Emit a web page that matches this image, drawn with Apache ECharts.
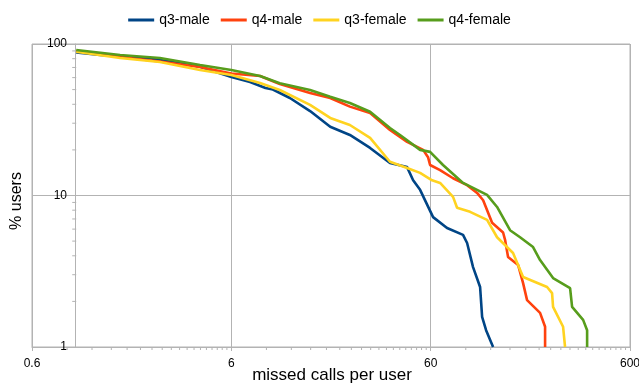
<!DOCTYPE html>
<html>
  <head>
    <title></title>
    <meta charset="UTF-8" />
    <script src="https://cdn.jsdelivr.net/npm/echarts@6/dist/echarts.min.js"></script>
  </head>
  <body style="margin:0">
    <div id="main"></div>
    <script>
      const width = 639;
      const height = 385;
      const main = document.getElementById('main');
      main.style.width = `${width}px`;
      main.style.height = `${height}px`;

      const seriesNames = ['q3-male', 'q4-male', 'q3-female', 'q4-female'];
      const colors = ['#004586', '#ff420e', '#ffd320', '#579d1c'];

      const xTicks = [0.6, 6, 60, 600];
      const yTicks = [1, 10, 100];

      // [missed calls, % users]
      const q3Male = [
        [1, 88], [1.32, 84.6], [2.35, 80.5], [4.18, 70.8], [6, 60.5], [7.45, 56.2],
        [8.9, 51.3], [9.7, 50.1], [11.8, 44.0], [14.9, 36.1], [18.8, 28.4], [23.6, 25.1],
        [29.8, 20.6], [37.5, 16.4], [45.7, 15.4], [49, 12.6], [53.1, 10.9], [61.7, 7.2],
        [72.5, 6.1], [87.2, 5.5], [91.4, 4.86], [97.9, 3.37], [106.2, 2.49], [108.7, 1.58],
        [113.8, 1.29], [123.4, 1.0]
      ];
      const q4Male = [
        [1, 89.9], [1.66, 82.1], [2.63, 76.6], [4.18, 70.5], [6, 63.9], [8.36, 61.5],
        [10.5, 54.4], [14.9, 47.5], [18.8, 44.0], [23.6, 38.6], [29.8, 35.0], [37.5, 27.1],
        [45.7, 22.6], [55, 20.0], [58.2, 17.9], [59.6, 15.9], [66.9, 14.7], [77.7, 13.0],
        [91.4, 11.7], [102.6, 10.4], [110, 9.3], [122, 6.6], [138.5, 5.7], [141.7, 5.1],
        [146.7, 3.93], [164.7, 3.48], [174.5, 2.64], [182.7, 2.04], [212.3, 1.68],
        [225, 1.36], [225, 1.0]
      ];
      const q3Female = [
        [1, 88.9], [1.66, 80.8], [2.63, 76.1], [4.18, 67.3], [6, 62.4], [8.36, 55.3],
        [10.5, 49.7], [14.9, 39.6], [18.8, 32.5], [23.6, 29.2], [29.8, 24.0], [37.5, 16.7],
        [45.7, 15.2], [53.1, 14.1], [61, 12.6], [66.9, 12.1], [77.7, 9.8], [81.4, 8.3],
        [94.6, 7.8], [115.1, 6.9], [129.2, 5.3], [155.4, 4.17], [174.5, 2.9], [230.2, 2.49],
        [243.9, 2.27], [246.7, 1.84], [277, 1.36], [283.4, 1.0]
      ];
      const q4Female = [
        [1, 91.3], [1.66, 84.6], [2.63, 80.8], [4.18, 72.7], [6, 67.3], [8.36, 61.5],
        [10.5, 55.0], [14.9, 49.7], [18.8, 44.9], [23.6, 40.8], [29.8, 35.7], [37.5, 27.9],
        [42.1, 25.1], [53.1, 20.0], [59.6, 19.4], [69.2, 15.9], [87.2, 12.1], [115.1, 10.1],
        [129.2, 8.4], [150.1, 5.9], [168.5, 5.3], [195.8, 4.57], [212.3, 3.75], [246.7, 2.85],
        [300.3, 2.45], [307.4, 1.84], [349.1, 1.51], [365.6, 1.29], [365.6, 1.0]
      ];
      const seriesData = [q3Male, q4Male, q3Female, q4Female];

      // minor ticks: x steps of half the decade start, y steps of the decade
      const xMinor = [];
      [0.6, 6, 60].forEach(d => { for (let k = 3; k < 20; k++) xMinor.push([d * k / 2, 1]); });
      const yMinor = [];
      [1, 10].forEach(d => { for (let k = 2; k < 10; k++) yMinor.push([1, d * k]); });

      const grey = '#b3b3b3';
      const font = 'Liberation Sans';

      const myChart = echarts.init(main, null, { renderer: 'canvas' });
      const option = {
        animation: false,
        textStyle: { fontFamily: font },
        legend: {
          data: seriesNames,
          top: 8,
          left: 'center',
          icon: 'rect',
          itemWidth: 26,
          itemHeight: 3,
          itemGap: 11,
          textStyle: { fontSize: 14, color: '#000', fontFamily: font }
        },
        grid: {
          left: 32,
          right: 9,
          top: 44,
          bottom: 38,
          outerBoundsMode: 'none',
          containLabel: false,
          show: true,
          borderColor: grey,
          borderWidth: 1
        },
        xAxis: {
          type: 'log',
          logBase: 10,
          min: 0.6,
          max: 600,
          axisLine: { lineStyle: { color: grey } },
          axisTick: { customValues: xTicks, length: 4, lineStyle: { color: grey } },
          axisLabel: { customValues: xTicks, fontSize: 12, color: '#000', margin: 11 },
          splitLine: { show: true, lineStyle: { color: grey } }
        },
        yAxis: {
          type: 'log',
          logBase: 10,
          min: 1,
          max: 100,
          offset: -43,
          axisLine: { show: true, lineStyle: { color: grey } },
          axisTick: { show: false },
          axisLabel: { fontSize: 12, color: '#000', margin: 8 },
          splitLine: { show: true, lineStyle: { color: grey } }
        },
        graphic: [{
          type: 'text',
          x: 17,
          y: 201,
          rotation: Math.PI / 2,
          style: {
            text: '% users',
            font: `16px "${font}"`,
            fill: '#000',
            align: 'center',
            verticalAlign: 'middle'
          }
        }, {
          type: 'text',
          x: 332,
          y: 375,
          style: {
            text: 'missed calls per user',
            font: `17px "${font}"`,
            fill: '#000',
            align: 'center',
            verticalAlign: 'middle'
          }
        }],
        series: seriesData.map((d, i) => ({
          name: seriesNames[i],
          type: 'line',
          data: d,
          symbol: 'none',
          color: colors[i],
          lineStyle: { width: 2.6, color: colors[i] }
        })).concat([
          {
            type: 'custom',
            silent: true,
            data: xMinor,
            renderItem: (params, api) => {
              const p = api.coord([api.value(0), api.value(1)]);
              return { type: 'line', shape: { x1: p[0], y1: p[1], x2: p[0], y2: p[1] + 3 }, style: { stroke: grey, lineWidth: 1 } };
            }
          },
          {
            type: 'custom',
            silent: true,
            data: yMinor,
            renderItem: (params, api) => {
              const p = api.coord([api.value(0), api.value(1)]);
              return { type: 'line', shape: { x1: p[0] - 4, y1: p[1], x2: p[0], y2: p[1] }, style: { stroke: grey, lineWidth: 1 } };
            }
          }
        ])
      };
      myChart.setOption(option);
    </script>
  </body>
</html>
